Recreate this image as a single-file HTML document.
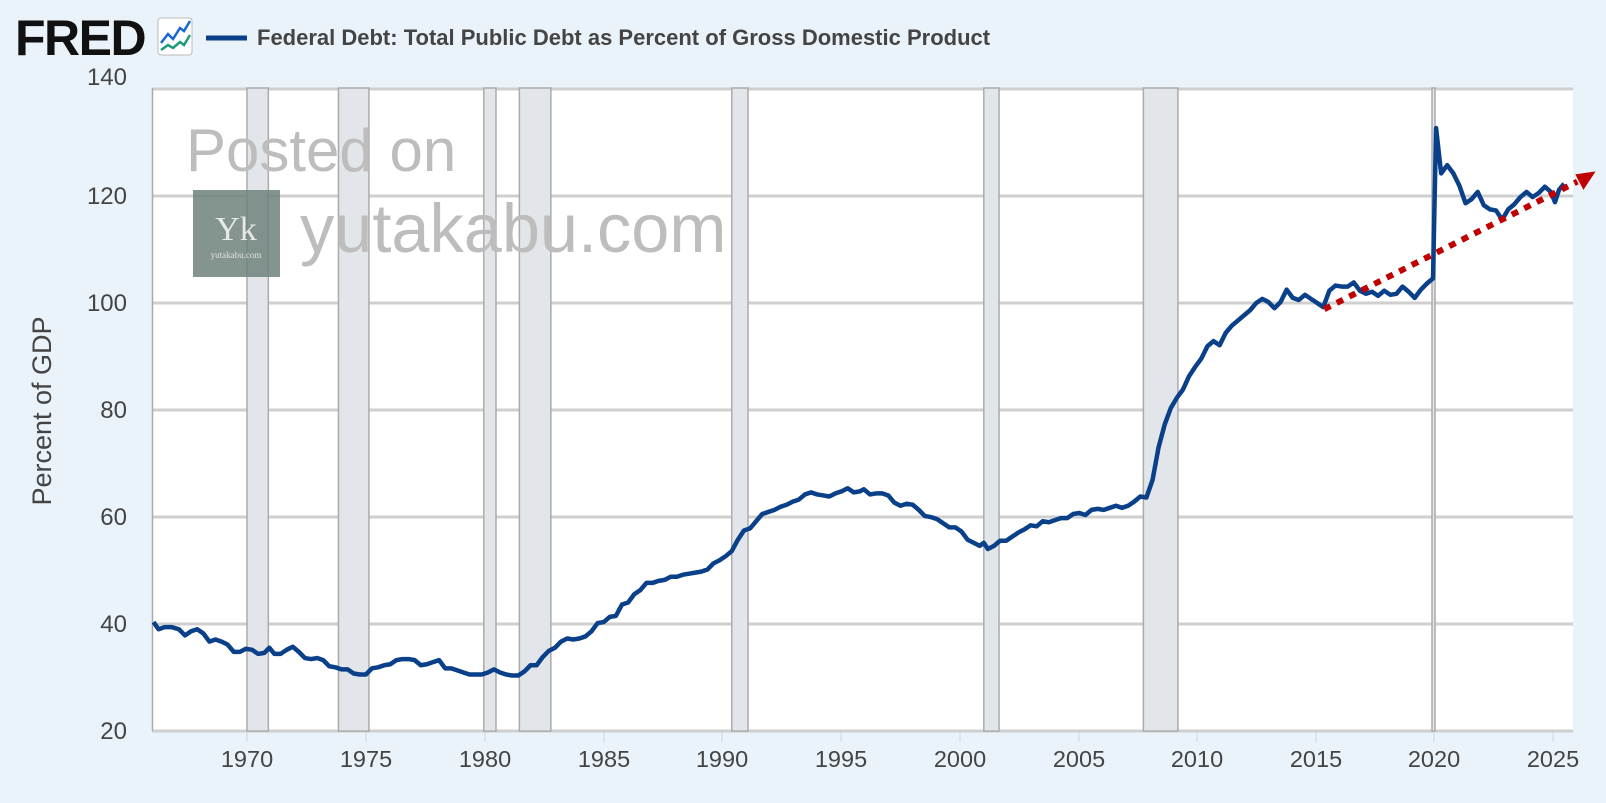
<!DOCTYPE html>
<html><head><meta charset="utf-8"><style>
html,body{margin:0;padding:0;background:#ebf3fa;}
svg{display:block;font-family:"Liberation Sans",sans-serif;}
</style></head><body>
<svg width="1606" height="803" viewBox="0 0 1606 803" xmlns="http://www.w3.org/2000/svg">
<rect width="1606" height="803" fill="#ebf3fa"/>
<!-- header -->
<text x="15" y="55" font-size="50" font-weight="bold" fill="#111" letter-spacing="-1.5">FRED</text>
<rect x="158" y="18" width="34" height="37" rx="3" fill="#fff" stroke="#bbb"/>
<polyline points="161,43 168,34 173,39 180,28 184,31 190,21" fill="none" stroke="#1a66d6" stroke-width="2.5"/>
<polyline points="161,50 168,45 173,48 180,42 184,45 190,35" fill="none" stroke="#1d9a7a" stroke-width="2.5"/>
<line x1="206" y1="38" x2="247" y2="38" stroke="#0a3f8a" stroke-width="5"/>
<text x="257" y="45" font-size="22" font-weight="bold" fill="#444">Federal Debt: Total Public Debt as Percent of Gross Domestic Product</text>
<!-- plot bg -->
<rect x="152" y="88" width="1421" height="643" fill="#fff"/>
<!-- gridlines -->
<g stroke="#cfcfcf" stroke-width="3">
<line x1="152" y1="89" x2="1573" y2="89"/>
<line x1="152" y1="196" x2="1573" y2="196"/>
<line x1="152" y1="303" x2="1573" y2="303"/>
<line x1="152" y1="410" x2="1573" y2="410"/>
<line x1="152" y1="517" x2="1573" y2="517"/>
<line x1="152" y1="624" x2="1573" y2="624"/>
<line x1="152" y1="731" x2="1573" y2="731"/>
</g>
<line x1="152.5" y1="88" x2="152.5" y2="731" stroke="#aaa" stroke-width="1.5"/>
<g transform="matrix(1.0163 0 0 1.029 4.1 -1.54)">
<g fill="#e2e6ea" stroke="#ababab" stroke-width="1.5">
<rect x="239" y="87" width="21" height="625" vector-effect="non-scaling-stroke"/>
<rect x="329" y="87" width="30" height="625" vector-effect="non-scaling-stroke"/>
<rect x="472" y="87" width="12" height="625" vector-effect="non-scaling-stroke"/>
<rect x="507" y="87" width="31" height="625" vector-effect="non-scaling-stroke"/>
<rect x="716" y="87" width="16" height="625" vector-effect="non-scaling-stroke"/>
<rect x="964" y="87" width="15" height="625" vector-effect="non-scaling-stroke"/>
<rect x="1121" y="87" width="34" height="625" vector-effect="non-scaling-stroke"/>
<rect x="1405" y="87" width="3" height="625" vector-effect="non-scaling-stroke"/>
</g>
</g>
<!-- watermark -->
<text x="186" y="171" font-size="60" fill="#bdbdbd">Posted on</text>
<text x="300" y="252" font-size="68.5" fill="#bdbdbd">yutakabu.com</text>
<rect x="193" y="190" width="87" height="87" fill="#6f837c" opacity="0.85"/>
<text x="236" y="240" font-size="34" font-family="Liberation Serif,serif" fill="#e8e8e8" text-anchor="middle">Yk</text>
<text x="236" y="258" font-size="9" font-family="Liberation Serif,serif" fill="#e0e0e0" text-anchor="middle">yutakabu.com</text>
<g transform="matrix(1.0163 0 0 1.029 4.1 -1.54)">
<polyline fill="none" stroke="#0a3f8a" stroke-width="4.5" stroke-linejoin="round" vector-effect="non-scaling-stroke" points="147,606 152,613 158,611 165,611 172,613 178,619 184,615 190,613 196,617 202,625 208,623 214,625 220,628 226,635 232,635 238,632 244,633 250,637 256,636 261,631 266,637 272,637 278,633 284,630 290,635 296,641 302,642 308,641 314,643 320,649 326,650 332,652 338,652 344,656 350,657 356,657 362,651 368,650 374,648 380,647 386,643 392,642 398,642 404,643 410,648 416,647 422,645 428,643 434,651 440,651 446,653 452,655 458,657 464,657 470,657 476,655 482,652 488,655 494,657 500,658 506,658 512,654 518,648 524,648 530,640 536,634 542,631 548,625 554,622 560,623 566,622 572,620 578,615 584,607 590,606 596,601 602,600 608,589 614,587 620,579 626,575 632,568 638,568 644,566 650,565 656,562 662,562 668,560 674,559 680,558 686,557 692,555 698,549 704,546 710,542 716,537 722,526 728,517 734,515 740,508 746,501 752,499 758,497 764,494 770,492 776,489 782,487 788,482 794,480 800,482 806,483 812,484 818,481 824,479 830,476 836,480 842,479 846,477 852,482 858,481 864,481 870,483 876,490 882,493 888,491 894,492 900,497 906,503 912,504 918,506 924,510 930,514 936,514 942,518 948,526 954,529 960,532 964,529 968,535 974,532 980,527 986,527 992,523 998,519 1004,516 1010,512 1016,513 1022,508 1028,509 1034,507 1040,505 1046,505 1052,501 1058,500 1064,502 1070,497 1076,496 1082,497 1088,495 1094,493 1100,495 1106,493 1112,489 1118,484 1124,485 1130,468 1136,436 1142,414 1148,398 1154,388 1160,380 1166,367 1172,358 1178,350 1184,338 1190,333 1196,337 1202,325 1208,318 1214,313 1220,308 1226,303 1232,296 1238,292 1244,295 1250,301 1256,295 1262,283 1268,291 1274,293 1280,288 1286,292 1292,296 1298,300 1304,284 1310,279 1316,280 1322,280 1328,276 1334,284 1340,287 1346,285 1352,289 1358,284 1364,288 1370,287 1376,280 1382,285 1388,291 1394,283 1400,277 1406,272 1409,126 1414,170 1420,162 1426,170 1432,182 1438,199 1444,195 1450,188 1456,201 1462,205 1468,206 1474,215 1480,205 1486,200 1492,193 1498,188 1504,193 1510,189 1516,183 1522,188 1526,198 1530,186 1535,180"/>
<line x1="1299" y1="302" x2="1548" y2="178" stroke="#c00000" stroke-width="6" stroke-dasharray="7,7" vector-effect="non-scaling-stroke"/>
<polygon points="1566,168 1546,171 1554,186" fill="#c00000"/>
</g>
<!-- y labels -->
<g font-size="24" fill="#444" text-anchor="end">
<text x="127" y="85">140</text>
<text x="127" y="204">120</text>
<text x="127" y="311">100</text>
<text x="127" y="418">80</text>
<text x="127" y="525">60</text>
<text x="127" y="632">40</text>
<text x="127" y="739">20</text>
</g>
<text transform="translate(51,411) rotate(-90)" font-size="27" fill="#444" text-anchor="middle">Percent of GDP</text>
<!-- x ticks & labels -->
<g stroke="#c8d4e6" stroke-width="1">
<line x1="247" y1="732" x2="247" y2="742"/><line x1="366" y1="732" x2="366" y2="742"/><line x1="485" y1="732" x2="485" y2="742"/><line x1="604" y1="732" x2="604" y2="742"/><line x1="722" y1="732" x2="722" y2="742"/><line x1="841" y1="732" x2="841" y2="742"/><line x1="960" y1="732" x2="960" y2="742"/><line x1="1079" y1="732" x2="1079" y2="742"/><line x1="1197" y1="732" x2="1197" y2="742"/><line x1="1316" y1="732" x2="1316" y2="742"/><line x1="1434" y1="732" x2="1434" y2="742"/><line x1="1553" y1="732" x2="1553" y2="742"/>
</g>
<g font-size="23.5" fill="#444" text-anchor="middle">
<text x="247" y="767">1970</text><text x="366" y="767">1975</text><text x="485" y="767">1980</text><text x="604" y="767">1985</text><text x="722" y="767">1990</text><text x="841" y="767">1995</text><text x="960" y="767">2000</text><text x="1079" y="767">2005</text><text x="1197" y="767">2010</text><text x="1316" y="767">2015</text><text x="1434" y="767">2020</text><text x="1553" y="767">2025</text>
</g>
</svg>
</body></html>
